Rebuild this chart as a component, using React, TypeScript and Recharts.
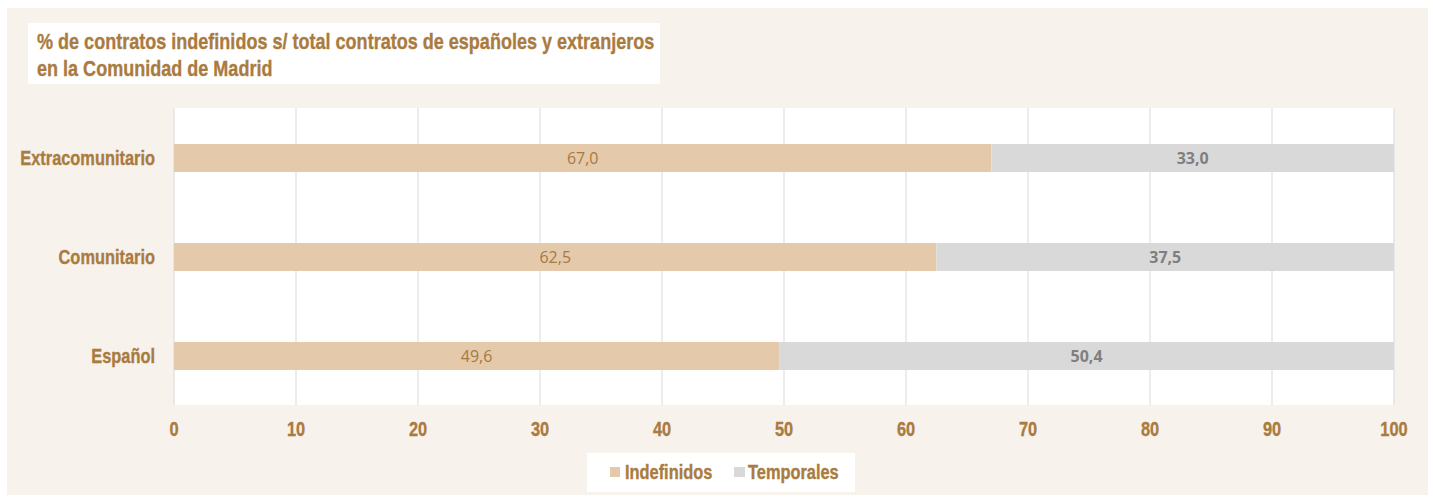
import React from "react";
import { Bar, BarChart, CartesianGrid, LabelList, XAxis, YAxis } from "recharts";

const categories = ["Extracomunitario", "Comunitario", "Español"];
const indefinidos = [67.0, 62.5, 49.6];
const temporales = [33.0, 37.5, 50.4];
const xTicks = [0, 10, 20, 30, 40, 50, 60, 70, 80, 90, 100];
const titleLines = [
  "% de contratos indefinidos s/ total contratos de españoles y extranjeros",
  "en la Comunidad de Madrid",
];
const seriesNames = ["Indefinidos", "Temporales"];

const data = categories.map((name, i) => ({
  name,
  indefinidos: indefinidos[i],
  temporales: temporales[i],
}));

const BROWN = "#AA7B3E";
const NARROW = '"Liberation Sans", Arial, sans-serif';
const SQUEEZE = 0.82;
const fmt = (v: any) => Number(v).toFixed(1).replace(".", ",");

// Arial Narrow is not installed, so squeeze Liberation Sans Bold horizontally
function NarrowText({ x, y, anchor, size, children }: any) {
  return (
    <g transform={`translate(${x},${y})`}>
      <text
        transform={`scale(${SQUEEZE},1)`}
        textAnchor={anchor}
        fill={BROWN}
        stroke={BROWN}
        strokeWidth={0.35}
        fontFamily={NARROW}
        fontWeight={700}
        fontSize={size}
      >
        {children}
      </text>
    </g>
  );
}

const XTick = ({ x, y, payload }: any) => (
  <NarrowText x={x} y={y + 31} anchor="middle" size={20}>
    {payload.value}
  </NarrowText>
);

const YTick = ({ x, y, payload }: any) => (
  <NarrowText x={x} y={y + 7} anchor="end" size={20}>
    {payload.value}
  </NarrowText>
);

export default function App() {
  return (
    <div style={{ position: "fixed", left: 0, top: 0, width: 1433, height: 497, background: "#fff" }}>
      <div style={{ position: "absolute", left: 7, top: 8, width: 1421, height: 487, background: "#F7F2EC" }} />
      <div style={{ position: "absolute", left: 0, top: 0 }}>
        <BarChart
          width={1433}
          height={497}
          data={data}
          layout="vertical"
          barSize={28}
          margin={{ top: 108, right: 39, bottom: 62, left: 0 }}
        >
          <CartesianGrid horizontal={false} stroke="#D9D9D9" fill="#fff" />
          <XAxis
            type="number"
            domain={[0, 100]}
            ticks={xTicks}
            height={30}
            axisLine={false}
            tickLine={false}
            tickSize={0}
            tickMargin={0}
            tick={<XTick />}
          />
          <YAxis
            type="category"
            dataKey="name"
            width={174}
            axisLine={false}
            tickLine={false}
            tickSize={0}
            tickMargin={19}
            tick={<YTick />}
          />
          <Bar dataKey="indefinidos" stackId="a" fill="#E4C9AB" isAnimationActive={false}>
            <LabelList
              dataKey="indefinidos"
              position="center"
              formatter={fmt}
              style={{ fill: "#A67943", fontSize: 16, fontFamily: '"Open Sans", sans-serif' }}
            />
          </Bar>
          <Bar dataKey="temporales" stackId="a" fill="#D9D9D9" isAnimationActive={false}>
            <LabelList
              dataKey="temporales"
              position="center"
              formatter={fmt}
              style={{ fill: "#7F7F7F", fontSize: 16, fontWeight: 700, fontFamily: '"Open Sans", sans-serif' }}
            />
          </Bar>
        </BarChart>
      </div>
      <svg width={1433} height={497} style={{ position: "absolute", left: 0, top: 0, pointerEvents: "none" }}>
        <rect x={28} y={23} width={632} height={61} fill="#fff" />
        <NarrowText x={37} y={49} anchor="start" size={22}>
          {titleLines[0]}
        </NarrowText>
        <NarrowText x={37} y={76} anchor="start" size={22}>
          {titleLines[1]}
        </NarrowText>
        <rect x={587} y={453} width={268} height={39} fill="#fff" />
        <rect x={610} y={467} width={10} height={10} fill="#E4C9AB" />
        <NarrowText x={625} y={479} anchor="start" size={20}>
          {seriesNames[0]}
        </NarrowText>
        <rect x={734} y={467} width={11} height={10} fill="#D9D9D9" />
        <NarrowText x={748} y={479} anchor="start" size={20}>
          {seriesNames[1]}
        </NarrowText>
      </svg>
    </div>
  );
}
